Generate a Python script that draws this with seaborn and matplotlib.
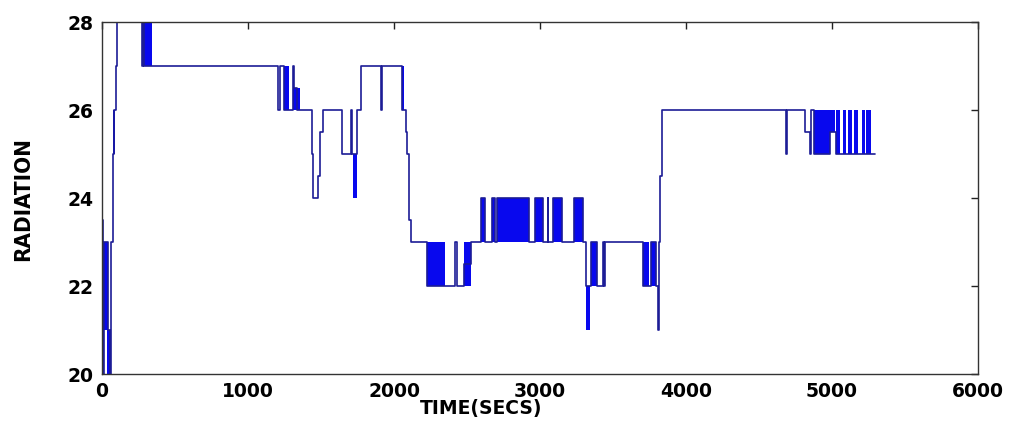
import numpy as np
import pandas as pd
import seaborn as sns
import matplotlib
matplotlib.use("Agg")
import matplotlib.pyplot as plt

# step series: value holds from each time until the next
time = [0, 7, 14, 42, 55, 62, 72, 77, 85, 95, 105, 271, 278, 285,
        1207, 1219, 1247, 1283, 1308, 1315, 1336, 1436, 1447, 1482, 1493, 1511,
        1646, 1703, 1712, 1744, 1774, 1909, 1916, 2053, 2070, 2080, 2091, 2100, 2114,
        2228, 2349, 2418, 2429, 2482, 2525, 2596, 2620, 2669, 2692, 2708, 2925,
        2966, 3020, 3052, 3058, 3091, 3153, 3235, 3297, 3313, 3342, 3347, 3390,
        3434, 3440, 3447, 3705, 3747, 3760, 3795, 3808, 3813, 3822, 3836,
        4685, 4692, 4815, 4849, 4855, 4877, 4986, 5027, 5295]
radiation = [23.5, 20, 23, 21, 20, 23, 24, 25, 26, 27, 28.6, 27, 28.6, 27,
             26, 27, 26, 26, 27, 26.5, 26, 25, 24, 24.5, 25.5, 26,
             25, 26, 25, 26, 27, 26, 27, 26, 26, 25.5, 25, 23.5, 23,
             22, 22, 23, 22, 22.5, 23, 24, 23, 24, 23, 24, 23,
             24, 23, 24, 23, 24, 23, 24, 23, 22, 22, 23, 22,
             23, 22, 23, 22, 22, 23, 22, 21, 23, 24.5, 26,
             25, 26, 25.5, 25, 26, 25, 25.5, 25, 25]

# regions where the signal flickers so fast it shows as a solid band
band_start = [2, 32, 78, 285, 1247, 1308, 1717, 2053, 2228, 2482, 2596, 2669, 2708,
              2966, 3091, 3235, 3315, 3347, 3705, 3760, 4877, 4986,
              5027, 5073, 5112, 5153, 5203, 5233]
band_end = [42, 60, 92, 340, 1283, 1356, 1744, 2069, 2349, 2525, 2620, 2692, 2925,
            3020, 3153, 3297, 3342, 3390, 3747, 3795, 4986, 5020,
            5055, 5096, 5135, 5180, 5226, 5265]
band_low = [21, 20, 25, 27, 26, 26, 24, 26, 22, 22, 23, 23, 23,
            23, 23, 23, 21, 22, 22, 22, 25, 25.5,
            25, 25, 25, 25, 25, 25]
band_high = [23, 21, 26, 28.6, 27, 26.5, 25, 27, 23, 23, 24, 24, 24,
             24, 24, 24, 22, 23, 23, 23, 26, 26,
             26, 26, 26, 26, 26, 26]

df = pd.DataFrame({'TIME': time, 'RADIATION': radiation})

sns.set_style('white')
fig = plt.figure(figsize=(10.17, 4.21), dpi=100)
ax = fig.add_axes([0.1003, 0.1116, 0.8614, 0.8361])

for s, e, lo, hi in zip(band_start, band_end, band_low, band_high):
    ax.fill_between([s, e], lo, hi, color='#0808ee', lw=0)
sns.lineplot(data=df, x='TIME', y='RADIATION', drawstyle='steps-post',
             estimator=None, sort=False, color='#1c1c96', lw=1.2, ax=ax)

ax.set_xlim(0, 6000)
ax.set_ylim(20, 28)
ax.set_xticks([0, 1000, 2000, 3000, 4000, 5000, 6000])
ax.set_yticks([20, 22, 24, 26, 28])

for sp in ax.spines.values():
    sp.set_visible(True)
    sp.set_color('#333333')
    sp.set_linewidth(1.0)
ax.tick_params(direction='in', length=5, width=1, color='#222222',
               top=True, right=True, labelsize=13.5, labelcolor='black', pad=6)
for lab in ax.get_xticklabels() + ax.get_yticklabels():
    lab.set_fontweight('heavy')
    lab.set_family('DejaVu Sans')

ax.set_xlabel('TIME(SECS)', fontsize=13.5, fontweight='heavy', color='black',
              family='DejaVu Sans')
ax.set_ylabel('RADIATION', fontsize=16, fontweight='bold', color='black',
              family='DejaVu Sans', fontstretch='condensed')
ax.xaxis.set_label_coords(0.433, -0.072)
ax.yaxis.set_label_coords(-0.079, 0.497)

fig.savefig('out.png', dpi=100)
